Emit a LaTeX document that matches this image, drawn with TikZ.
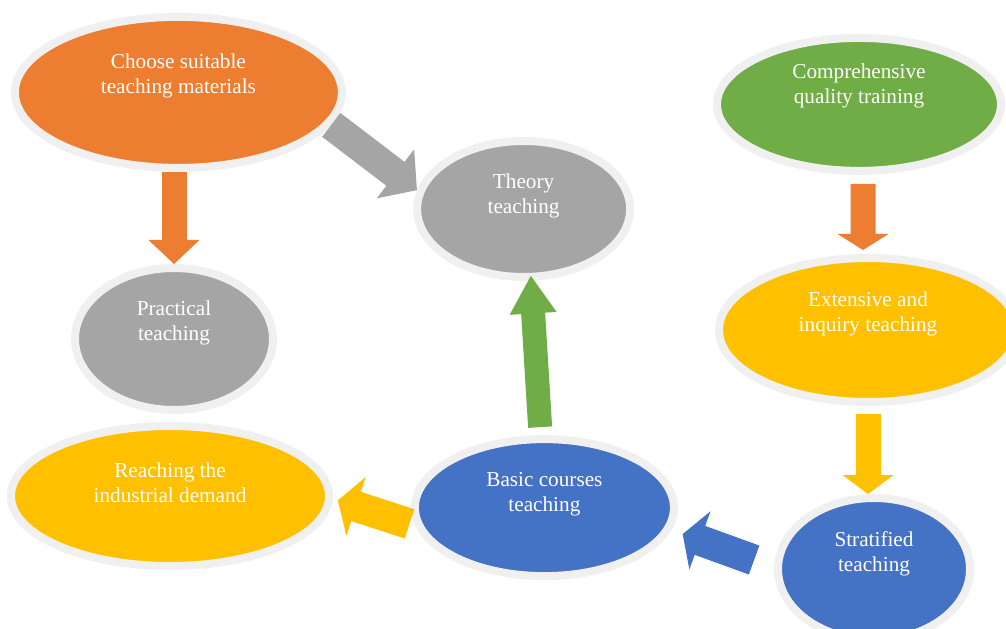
\documentclass[tikz,border=0pt]{standalone}
\usepackage{fontspec}
\setmainfont{Liberation Serif}
\usepackage{tikz}
\usetikzlibrary{arrows.meta,shapes.geometric,calc}
\definecolor{orange}{HTML}{ED7D31}
\definecolor{gray}{HTML}{A5A5A5}
\definecolor{green}{HTML}{70AD47}
\definecolor{gold}{HTML}{FFC000}
\definecolor{blue}{HTML}{4472C4}
\definecolor{rim}{HTML}{F0F0F0}
\tikzset{
  bubble/.style={ellipse, fill=#1, draw=rim, line width=0.2cm, inner sep=0pt},
  lbl/.style={text=white, align=center, font=\fontsize{15.1}{17.8}\selectfont}
}
% block arrow: colour, shaft width, head width, head length, from, to
\newcommand{\blkarrow}[6]{%
  \draw[draw=#1, line width=#2, shorten >=#4*0.85] (#5) -- (#6);
  \draw[draw=#1, line width=0.2pt,
    -{Triangle[length=#4, width=#3, line width=0pt]}] (#5) -- (#6);
}

\begin{document}
\begin{tikzpicture}
  \useasboundingbox (0,0) rectangle (25.15,15.7);
  \clip (0,0) rectangle (25.15,15.7);

  % left column
  \node[bubble=orange, minimum width=8.175cm, minimum height=3.775cm,
    label={[lbl, yshift=0.42cm]center:Choose suitable\\teaching materials}] (choose) at (4.46,13.39) {};
  \node[bubble=gray, minimum width=4.95cm, minimum height=3.55cm,
    label={[lbl, yshift=0.39cm]center:Practical\\teaching}] (practical) at (4.35,7.225) {};
  \node[bubble=gold, minimum width=7.95cm, minimum height=3.5cm,
    label={[lbl, yshift=0.34cm]center:Reaching the\\industrial demand}] (reaching) at (4.25,3.3) {};

  % middle column
  \node[bubble=gray, minimum width=5.325cm, minimum height=3.4cm,
    label={[lbl, yshift=0.32cm]center:Theory\\teaching}] (theory) at (13.09,10.475) {};
  \node[bubble=blue, minimum width=6.475cm, minimum height=3.425cm,
    label={[lbl, yshift=0.33cm]center:Basic courses\\teaching}] (basic) at (13.61,3.01) {};

  % right column
  \node[bubble=green, minimum width=7.1cm, minimum height=3.325cm,
    label={[lbl, yshift=0.46cm]center:Comprehensive\\quality training}] (comp) at (21.475,13.09) {};
  \node[bubble=gold, minimum width=7.45cm, minimum height=3.6cm,
    label={[lbl, yshift=0.39cm]center:Extensive and\\inquiry teaching}] (ext) at (21.7,7.45) {};
  \node[bubble=blue, minimum width=4.8cm, minimum height=3.55cm,
    label={[lbl, yshift=0.37cm]center:Stratified\\teaching}] (strat) at (21.85,1.475) {};

  % block arrows
  \blkarrow{orange}{0.625cm}{1.275cm}{0.6cm}{choose.south -| practical.north}{practical.north}
  \blkarrow{gray}{0.75cm}{1.54cm}{0.675cm}{choose.-12.5}{theory.170}
  \blkarrow{green}{0.6cm}{1.175cm}{0.94cm}
    {$(basic.93)!0.2cm!(theory.-84)$}{$(theory.-84)!-0.125cm!(basic.93)$}
  \blkarrow{orange}{0.625cm}{1.275cm}{0.4cm}
    {[shift={(0.1,-0.225)}]comp.south}{[shift={(-0.125,0.1)}]ext.north}
  \blkarrow{gold}{0.625cm}{1.275cm}{0.475cm}{[yshift=-0.2cm]ext.south}{ext.south |- strat.north}
  \blkarrow{blue}{0.77cm}{1.55cm}{0.46cm}
    {$(strat.179)!0.53cm!(basic.-10)$}{$(basic.-10)!0.3cm!(strat.179)$}
  \blkarrow{gold}{0.77cm}{1.55cm}{0.48cm}
    {$(basic.188)!0.15cm!(reaching.-1)$}{$(reaching.-1)!0.13cm!(basic.188)$}
\end{tikzpicture}
\end{document}
